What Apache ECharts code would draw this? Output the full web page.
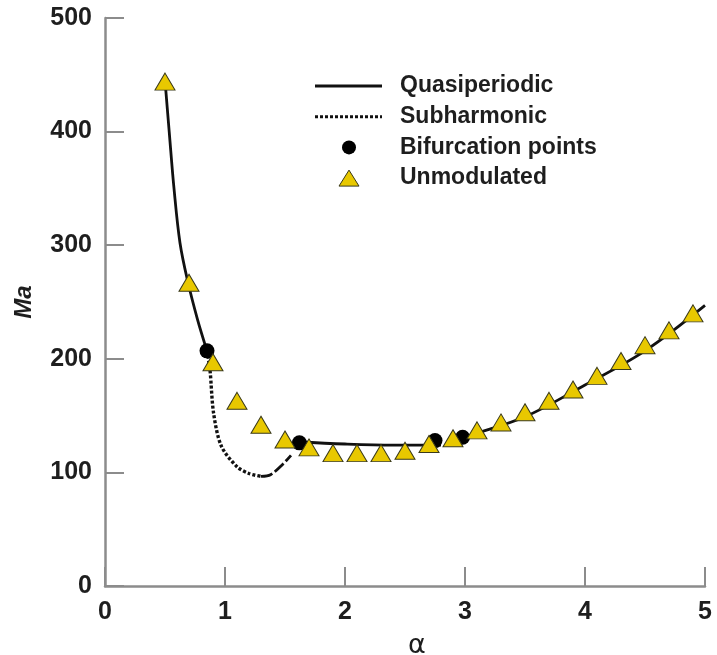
<!DOCTYPE html>
<html>
<head>
<meta charset="utf-8">
<script src="https://cdn.jsdelivr.net/npm/echarts@6/dist/echarts.min.js"></script>
<style>
  html, body { margin: 0; padding: 0; background: #fff; }
  #chart { width: 717px; height: 655px; }
</style>
</head>
<body>
<div id="chart"></div>
<script>
// unmodulated points (triangles)
const triAlpha = [0.5, 0.7, 0.9, 1.1, 1.3, 1.5, 1.7, 1.9, 2.1, 2.3, 2.5, 2.7, 2.9, 3.1, 3.3, 3.5, 3.7, 3.9, 4.1, 4.3, 4.5, 4.7, 4.9];
const triMa = [444, 267, 197, 163, 142, 129, 122, 117, 117, 117, 119, 125, 130, 137, 144, 153, 163, 173, 185, 198, 212, 225, 240];

// bifurcation points
const bifAlpha = [0.85, 1.62, 2.75, 2.98];
const bifMa = [207, 126, 128, 131];

// quasiperiodic branches (null = gap between branches)
const quasiAlpha = [0.5, 0.535, 0.575, 0.625, 0.69, 0.77, 0.85, null, 1.6, 2.0, 2.4, 2.8, null, 2.88, 3.0, 3.5, 4.0, 4.5, 5.0];
const quasiMa = [445, 400, 350, 302, 268, 235, 207, null, 127, 125, 124, 124, null, 125, 131, 149, 177, 207, 247];

// subharmonic branch
const subAlpha = [0.85, 0.875, 0.905, 0.97, 1.1, 1.2, 1.3];
const subMa = [207, 190, 152, 123, 105, 99, 96.5];
const tailAlpha = [1.3, 1.38, 1.48, 1.55];
const tailMa = [96.5, 98, 107, 115];

const xTicks = [0, 1, 2, 3, 4, 5];
const yTicks = [0, 100, 200, 300, 400, 500];
const legendNames = ['Quasiperiodic', 'Subharmonic', 'Bifurcation points', 'Unmodulated'];

const zip = (xs, ys) => xs.map((x, i) => (x === null ? [null, null] : [x, ys[i]]));

const chart = echarts.init(document.getElementById('chart'));

const axisColor = '#8c8c8c';
const inkColor = '#1e1e1e';
const triFill = '#e8c800';
const triBorder = '#3a3a1a';
const labelStyle = { color: inkColor, fontFamily: 'Liberation Sans', fontWeight: 'bold', fontSize: 25 };

// hand-built legend (icon column + text column)
const legX = 315, legW = 67, legTop = 86, legRow = 30.7, legTextX = 400;
const rowY = (i) => legTop + i * legRow;
const legendGraphics = [
  { type: 'line', shape: { x1: legX, y1: rowY(0), x2: legX + legW, y2: rowY(0) }, style: { stroke: '#111', lineWidth: 3 } },
  { type: 'line', shape: { x1: legX, y1: rowY(1), x2: legX + legW, y2: rowY(1) }, style: { stroke: '#111', lineWidth: 3, lineDash: [3, 2] } },
  { type: 'circle', shape: { cx: legX + 34, cy: rowY(2), r: 7 }, style: { fill: '#000' } },
  {
    type: 'polygon',
    shape: { points: [[legX + 34, rowY(3) - 8], [legX + 44, rowY(3) + 8], [legX + 24, rowY(3) + 8]] },
    style: { fill: triFill, stroke: triBorder, lineWidth: 1 }
  }
].concat(legendNames.map((name, i) => ({
  type: 'text', x: legTextX, y: rowY(i),
  style: {
    text: name, fill: inkColor, font: 'bold 23px "Liberation Sans"',
    textVerticalAlign: 'middle', verticalAlign: 'middle'
  }
})));

chart.setOption({
  backgroundColor: '#ffffff',
  animation: false,
  grid: { left: 105, right: 12, top: 18, bottom: 69, outerBoundsMode: 'none', containLabel: false },
  graphic: legendGraphics,
  xAxis: {
    type: 'value', min: xTicks[0], max: xTicks[xTicks.length - 1], interval: 1,
    name: 'α', nameLocation: 'middle', nameGap: 46,
    nameTextStyle: { color: inkColor, fontFamily: 'DejaVu Sans', fontSize: 27, padding: [0, 0, 0, 24] },
    axisLine: { lineStyle: { color: axisColor, width: 2.5 } },
    axisTick: { inside: true, length: 19, lineStyle: { color: axisColor, width: 2 } },
    axisLabel: Object.assign({ margin: 14 }, labelStyle),
    splitLine: { show: false }
  },
  yAxis: {
    type: 'value', min: yTicks[0], max: yTicks[yTicks.length - 1], interval: 100,
    name: 'Ma', nameLocation: 'middle', nameGap: 69, nameRotate: 90,
    nameTextStyle: { color: inkColor, fontFamily: 'Liberation Sans', fontWeight: 'bold', fontStyle: 'italic', fontSize: 24 },
    axisLine: { show: true, lineStyle: { color: axisColor, width: 2.5 } },
    axisTick: { show: true, inside: true, length: 19, lineStyle: { color: axisColor, width: 2 } },
    axisLabel: Object.assign({ margin: 13 }, labelStyle),
    splitLine: { show: false }
  },
  series: [
    {
      name: 'Quasiperiodic', type: 'line', data: zip(quasiAlpha, quasiMa),
      symbol: 'none', smooth: 0.35, connectNulls: false, z: 3,
      lineStyle: { color: '#111', width: 2.8 }
    },
    {
      name: 'Subharmonic', type: 'line', data: zip(subAlpha, subMa),
      symbol: 'none', smooth: 0.3, z: 3,
      lineStyle: { color: '#111', width: 3.4, type: [3, 2] }
    },
    {
      name: 'Subharmonic', type: 'line', data: zip(tailAlpha, tailMa),
      symbol: 'none', smooth: 0.3, z: 3,
      lineStyle: { color: '#111', width: 2.8, type: [12, 3] }
    },
    {
      name: 'Bifurcation points', type: 'scatter', data: zip(bifAlpha, bifMa),
      symbol: 'circle', symbolSize: 15, z: 4,
      itemStyle: { color: '#000', opacity: 1 }
    },
    {
      name: 'Unmodulated', type: 'scatter', data: zip(triAlpha, triMa),
      symbol: 'triangle', symbolSize: [20, 17], z: 5,
      itemStyle: { color: triFill, borderColor: triBorder, borderWidth: 1, opacity: 1 }
    }
  ]
});
</script>
</body>
</html>
